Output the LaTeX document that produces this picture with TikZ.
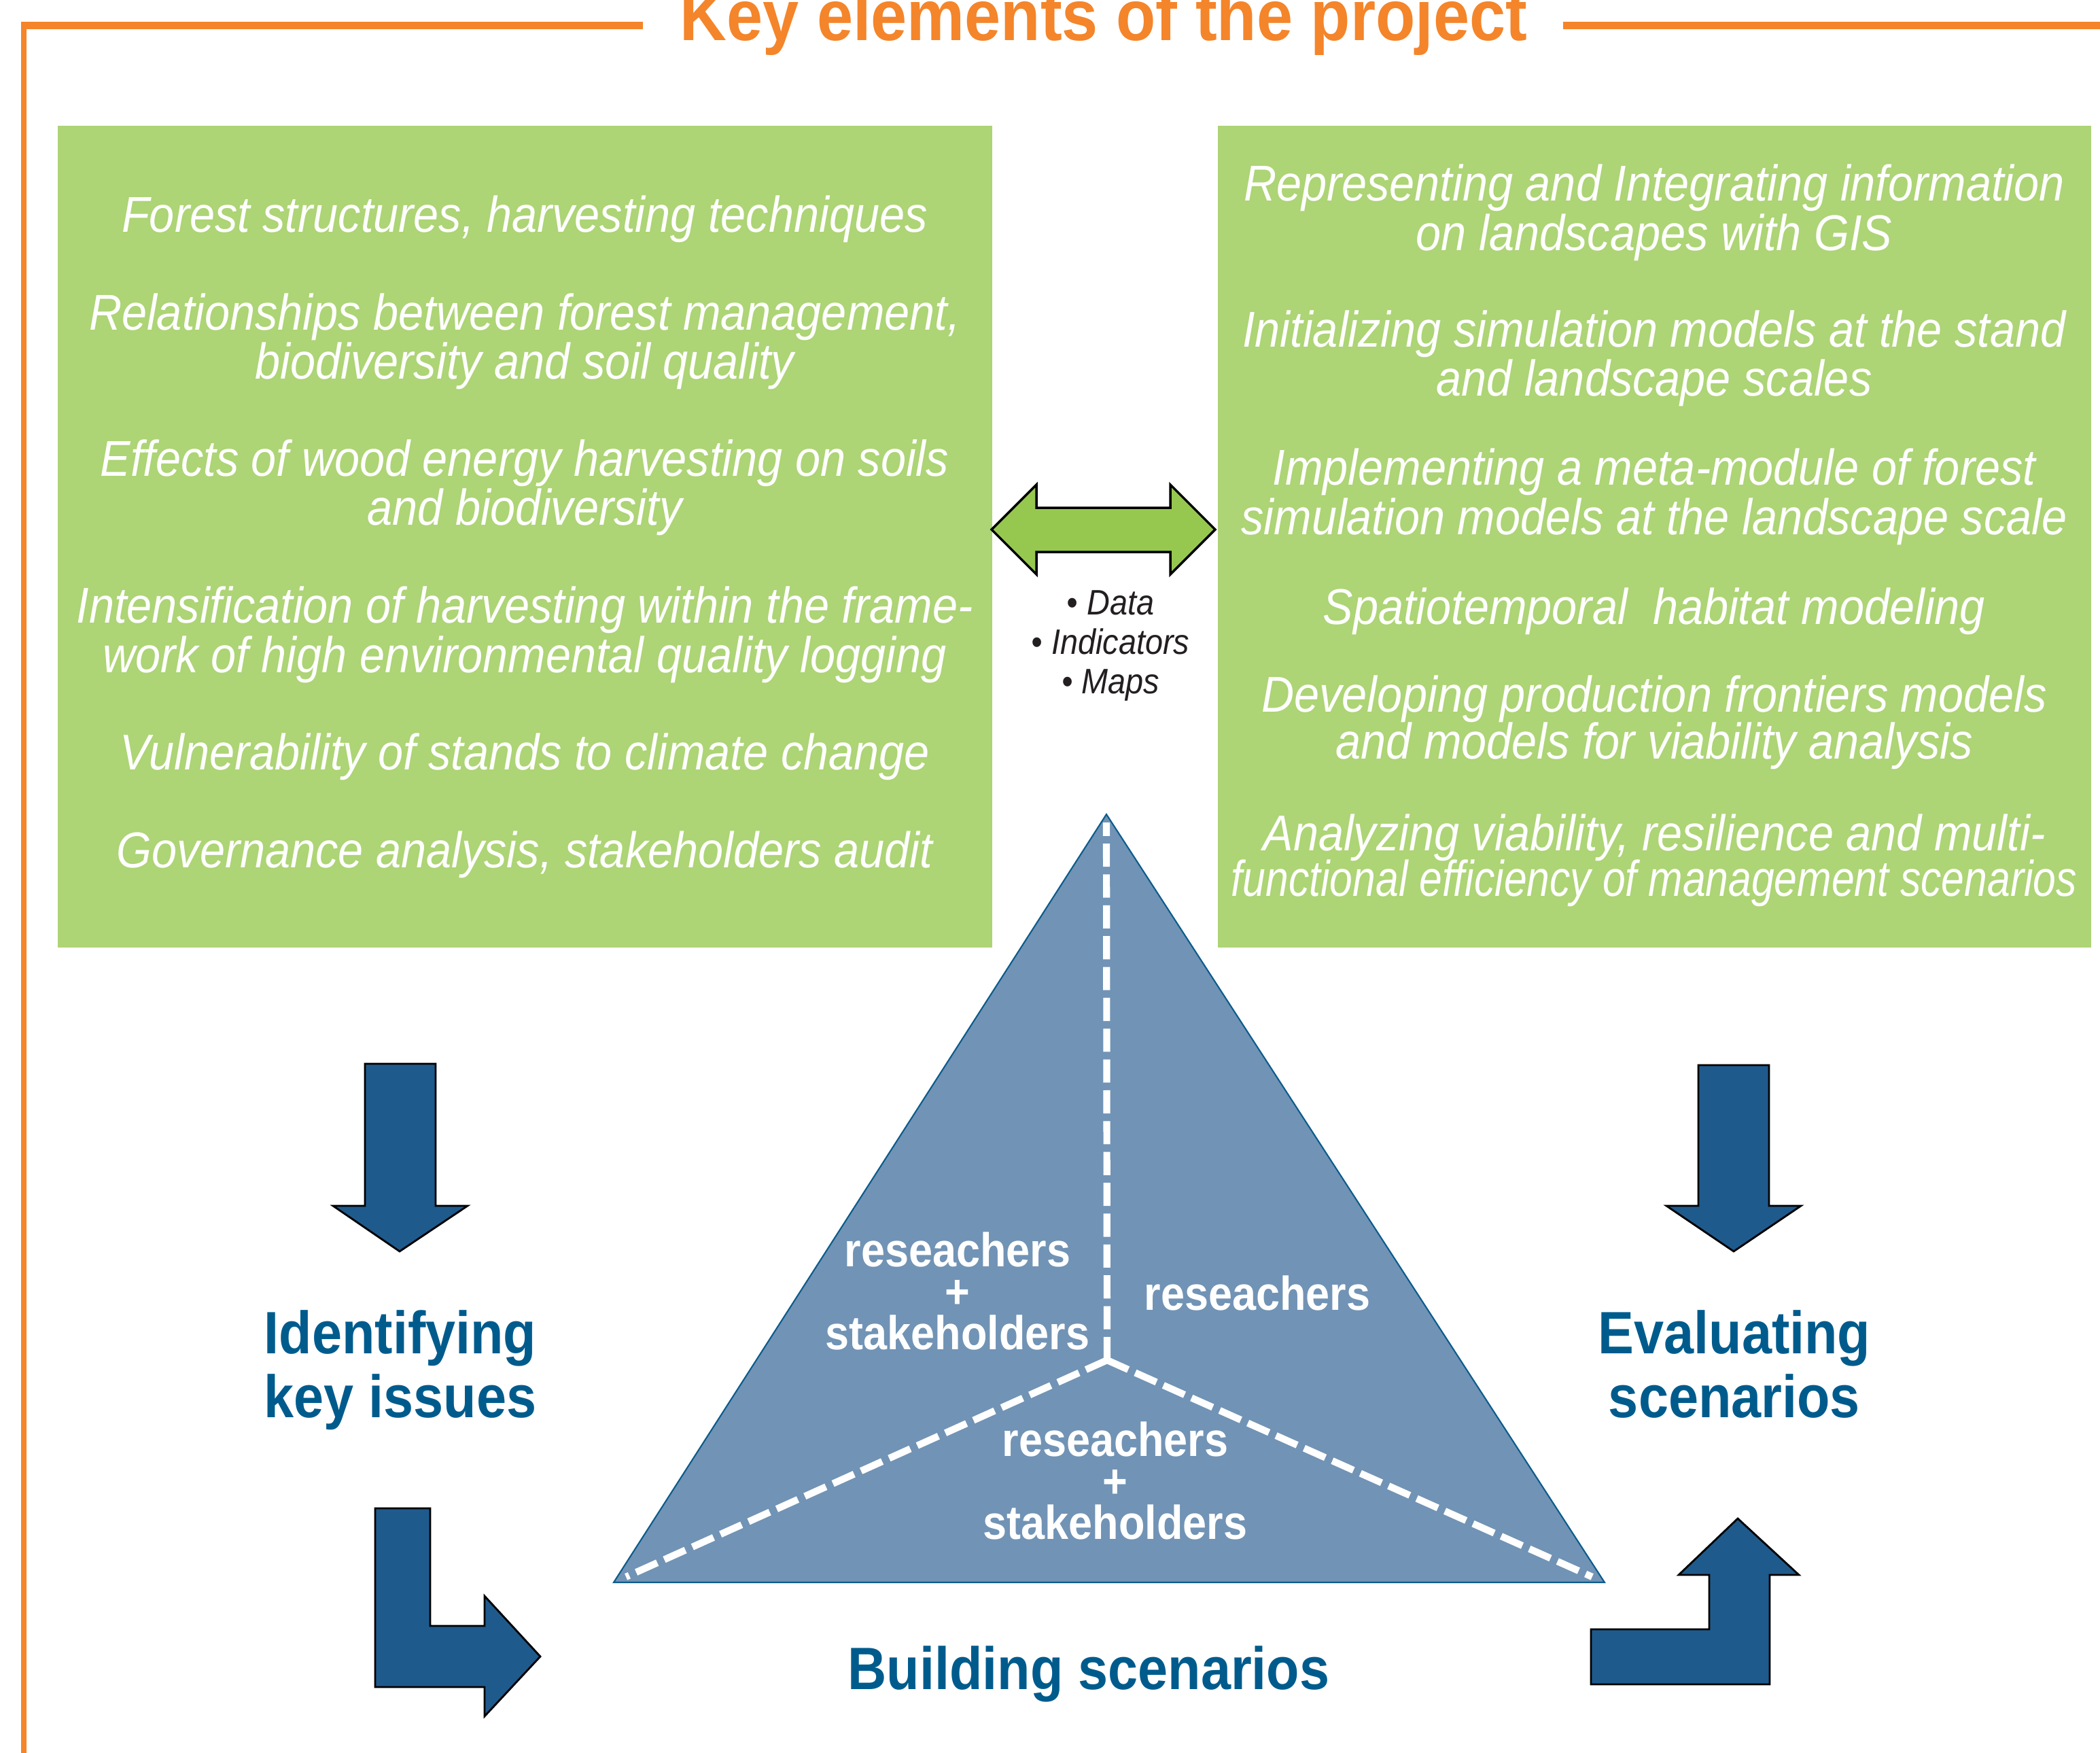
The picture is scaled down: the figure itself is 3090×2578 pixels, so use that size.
\documentclass[tikz,border=0pt]{standalone}
\usepackage{fontspec}
\usepackage{graphicx}
\newfontfamily\helv[FakeStretch=0.9]{Liberation Sans}
\usetikzlibrary{calc}
\definecolor{keyorange}{HTML}{F4852A}
\definecolor{boxgreen}{HTML}{ADD475}
\definecolor{arrowgreen}{HTML}{96C84F}
\definecolor{arrowblue}{HTML}{1F5A8C}
\definecolor{trifill}{HTML}{7193B5}
\definecolor{triline}{HTML}{0B5B8C}
\definecolor{labelblue}{HTML}{005B8D}
\definecolor{flowtext}{HTML}{231F20}

\begin{document}
\begin{tikzpicture}[x=0.01cm, y=-0.01cm,
    greentext/.style={text=white, inner sep=0pt, anchor=base,
        font=\helv\itshape\fontsize{21.06pt}{20.5pt}\selectfont},
    triangletext/.style={text=white, inner sep=0pt, align=center,
        font=\helv\bfseries\fontsize{19.9pt}{17.36pt}\selectfont},
    steplabel/.style={text=labelblue, inner sep=0pt, align=center,
        font=\helv\bfseries\fontsize{25.04pt}{26.75pt}\selectfont},
    blockarrow/.style={fill=arrowblue, draw=black, line width=0.8pt, line join=miter},
    splitline/.style={white, line width=2.9pt, dash pattern=on 9.7pt off 3.2pt}]
\useasboundingbox (0, 0) rectangle (3090, 2578);

% 1. 标题和橙色边框
\node[text=keyorange, inner sep=0pt, anchor=base,
      font=\helv\bfseries\fontsize{30.16pt}{32pt}\selectfont] (title) at (1624, 59)
      {Key elements of the project};
\draw[keyorange, line width=3.1pt] (946, 37.5) -- (30.6, 37.5);
\draw[keyorange, line width=3.1pt] (2300, 37.5) -- (3095, 37.5);
\draw[keyorange, line width=2.5pt] (35, 33) -- (35, 2600);

% 2. 两个绿色方框
\fill[boxgreen] (85, 185) rectangle (1460, 1394);
\fill[boxgreen] (1792, 185) rectangle (3077, 1394);

\foreach \y/\txt [count=\i] in
    {341/{Forest structures, harvesting techniques},
     485/{Relationships between forest management,},
     557/{biodiversity and soil quality},
     700/{Effects of wood energy harvesting on soils},
     772/{and biodiversity},
     916/{Intensification of harvesting within the frame-},
     989/{work of high environmental quality logging},
     1132/{Vulnerability of stands to climate change},
     1276/{Governance analysis, stakeholders audit}}
    {\node[greentext] (left\i) at (772, \y) {\txt};
    }
\foreach \y/\txt [count=\i] in
    {295/{Representing and Integrating information},
     368/{on landscapes with GIS},
     510/{Initializing simulation models at the stand},
     582/{and landscape scales},
     713/{Implementing a meta-module of forest},
     786/{simulation models at the landscape scale},
     918/{Spatiotemporal\ \ habitat modeling},
     1047/{Developing production frontiers models},
     1116/{and models for viability analysis},
     1251/{Analyzing viability, resilience and multi-},
     1318/{\scalebox{0.91}[1]{functional efficiency of management scenarios}}}
    {\node[greentext] (right\i) at (2434, \y) {\txt};
    }

% 3. 双向箭头和数据
\draw[fill=arrowgreen, draw=black, line width=1pt, line join=miter]
    (1459, 779) -- (1525, 713) -- (1525, 747) -- (1722, 747) -- (1722, 713)
    -- (1788, 779) -- (1722, 845) -- (1722, 812) -- (1525, 812) -- (1525, 845) -- cycle;
\node[text=flowtext, inner sep=0pt, anchor=north, align=center,
      font=\helv\itshape\fontsize{14.8pt}{16.5pt}\selectfont] (exchange) at (1634, 868)
      {\textbullet\ Data\\ \textbullet\ Indicators\\ \textbullet\ Maps};

% 4. 三角形
\coordinate (apex) at (1628, 1198);
\coordinate (bl) at (903, 2328);
\coordinate (br) at (2361, 2328);
\coordinate (mid) at (1629, 2001);
\draw[fill=trifill, draw=triline, line width=0.6pt] (apex) -- (bl) -- (br) -- cycle;
\draw[splitline] (mid) -- ($(mid)!0.985!(apex)$);
\draw[splitline] (mid) -- ($(mid)!0.975!(bl)$);
\draw[splitline] (mid) -- ($(mid)!0.975!(br)$);

\node[triangletext, anchor=north] (mixleft) at (1409, 1812)
    {reseachers\\+\\stakeholders};
\node[triangletext, anchor=base] (research) at (1850, 1927) {reseachers};
\node[triangletext, anchor=north] (mixbottom) at (1641, 2091)
    {reseachers\\+\\stakeholders};

% 5. 蓝色箭头
\draw[blockarrow] (537, 1565) -- (641, 1565) -- (641, 1774) -- (688, 1774)
    -- (588, 1841) -- (490, 1774) -- (537, 1774) -- cycle;
\draw[blockarrow] (2499, 1567) -- (2603, 1567) -- (2603, 1774) -- (2650, 1774)
    -- (2551, 1841) -- (2452, 1774) -- (2499, 1774) -- cycle;
\draw[blockarrow] (552, 2219) -- (633, 2219) -- (633, 2392) -- (713, 2392)
    -- (713, 2348) -- (795, 2437) -- (713, 2525) -- (713, 2482) -- (552, 2482) -- cycle;
\draw[blockarrow] (2341, 2397) -- (2515, 2397) -- (2515, 2317) -- (2470, 2317)
    -- (2557, 2234) -- (2647, 2317) -- (2604, 2317) -- (2604, 2478) -- (2341, 2478) -- cycle;

% 6. 步骤标签
\node[steplabel, anchor=north] (identify) at (589, 1927) {Identifying\\key issues};
\node[steplabel, anchor=north] (evaluate) at (2552, 1927) {Evaluating\\scenarios};
\node[steplabel, anchor=base] (build) at (1602, 2485) {Building scenarios};
\end{tikzpicture}
\end{document}
